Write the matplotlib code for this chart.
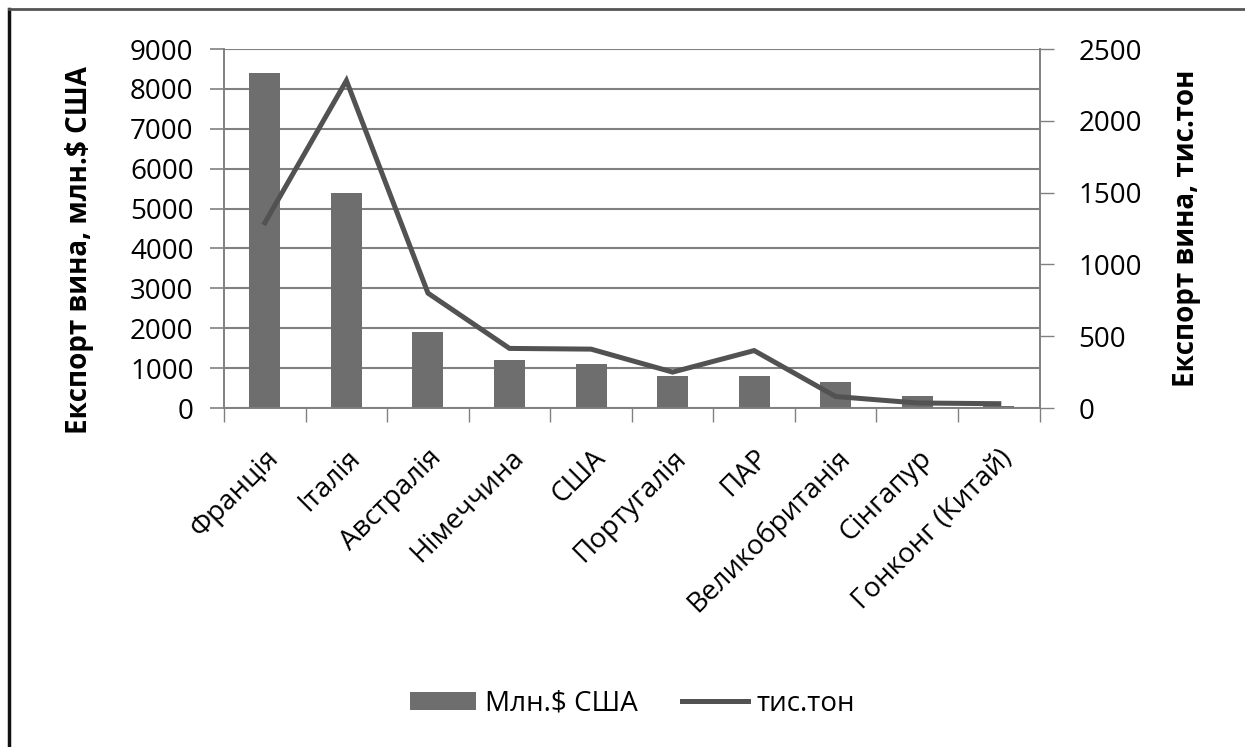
import matplotlib.pyplot as plt
import numpy as np
from matplotlib.lines import Line2D
from matplotlib.patches import Patch

plt.rcParams["font.family"] = ["Open Sans", "DejaVu Sans"]

countries = [
    "Франція", "Італія", "Австралія", "Німеччина", "США",
    "Португалія", "ПАР", "Великобританія", "Сінгапур", "Гонконг (Китай)",
]
export_usd = [8400, 5400, 1900, 1200, 1100, 800, 800, 660, 300, 40]
export_tons = [1290, 2280, 800, 415, 410, 250, 400, 80, 35, 30]

BAR_COLOR = "#6e6e6e"
LINE_COLOR = "#525252"
GRID_COLOR = "#808080"
FS = 20

fig = plt.figure(figsize=(12.45, 7.47), dpi=100)
ax = fig.add_axes([0.18, 0.4538, 0.655, 0.4806])
ax2 = ax.twinx()

x = np.arange(len(countries))
ax.bar(x, export_usd, width=0.38, color=BAR_COLOR, zorder=3)
ax2.plot(x, export_tons, color=LINE_COLOR, linewidth=3.6, solid_joinstyle="miter", zorder=4)

ax.set_xlim(-0.5, len(countries) - 0.5)
ax.set_ylim(0, 9000)
ax2.set_ylim(0, 2500)
ax.set_yticks(np.arange(0, 9001, 1000))
ax2.set_yticks(np.arange(0, 2501, 500))

# horizontal grid from the left axis
ax.yaxis.grid(True, color=GRID_COLOR, linewidth=1.5, zorder=0)
ax.set_axisbelow(True)

# category labels at centres, tick marks at boundaries
ax.set_xticks(x)
ax.set_xticklabels(countries, rotation=45, ha="right", rotation_mode="anchor", fontsize=FS)
ax.set_xticks(np.arange(-0.5, len(countries)), minor=True)
ax.tick_params(axis="x", which="major", length=0, pad=26)
ax.tick_params(axis="x", which="minor", length=10, width=1, color=GRID_COLOR, direction="out")
ax.tick_params(axis="y", length=10, width=1.2, color=GRID_COLOR, labelsize=FS, pad=12)
ax2.tick_params(axis="y", length=10, width=1, color=GRID_COLOR, labelsize=FS, pad=18)

for a in (ax, ax2):
    a.spines["top"].set_visible(False)
    for side in ("left", "right", "bottom"):
        a.spines[side].set_color(GRID_COLOR)
        a.spines[side].set_linewidth(1.2)

ax.set_ylabel("Експорт вина, млн.$ США", fontsize=20, fontweight="bold")
ax.yaxis.set_label_coords(-0.16, 0.44)
ax2.set_ylabel("Експорт вина, тис.тон", fontsize=20, fontweight="bold", rotation=90)
ax2.yaxis.set_label_coords(1.163, 0.5)

handles = [
    Patch(facecolor=BAR_COLOR, edgecolor="none"),
    Line2D([0], [0], color=LINE_COLOR, linewidth=3.6),
]
fig.legend(
    handles, ["Млн.$ США", "тис.тон"],
    loc="center", bbox_to_anchor=(0.508, 0.058), ncol=2, frameon=False,
    fontsize=FS, handlelength=2.4, handleheight=0.6, handletextpad=0.3, columnspacing=1.6,
)

# outer frame on the left and top edges
fig.add_artist(Line2D([0.0075, 0.0075], [0, 0.988], transform=fig.transFigure, color="#111111", linewidth=2.5))
fig.add_artist(Line2D([0.0075, 1.0], [0.988, 0.988], transform=fig.transFigure, color="#555555", linewidth=2))

fig.savefig("out.png", dpi=100)
